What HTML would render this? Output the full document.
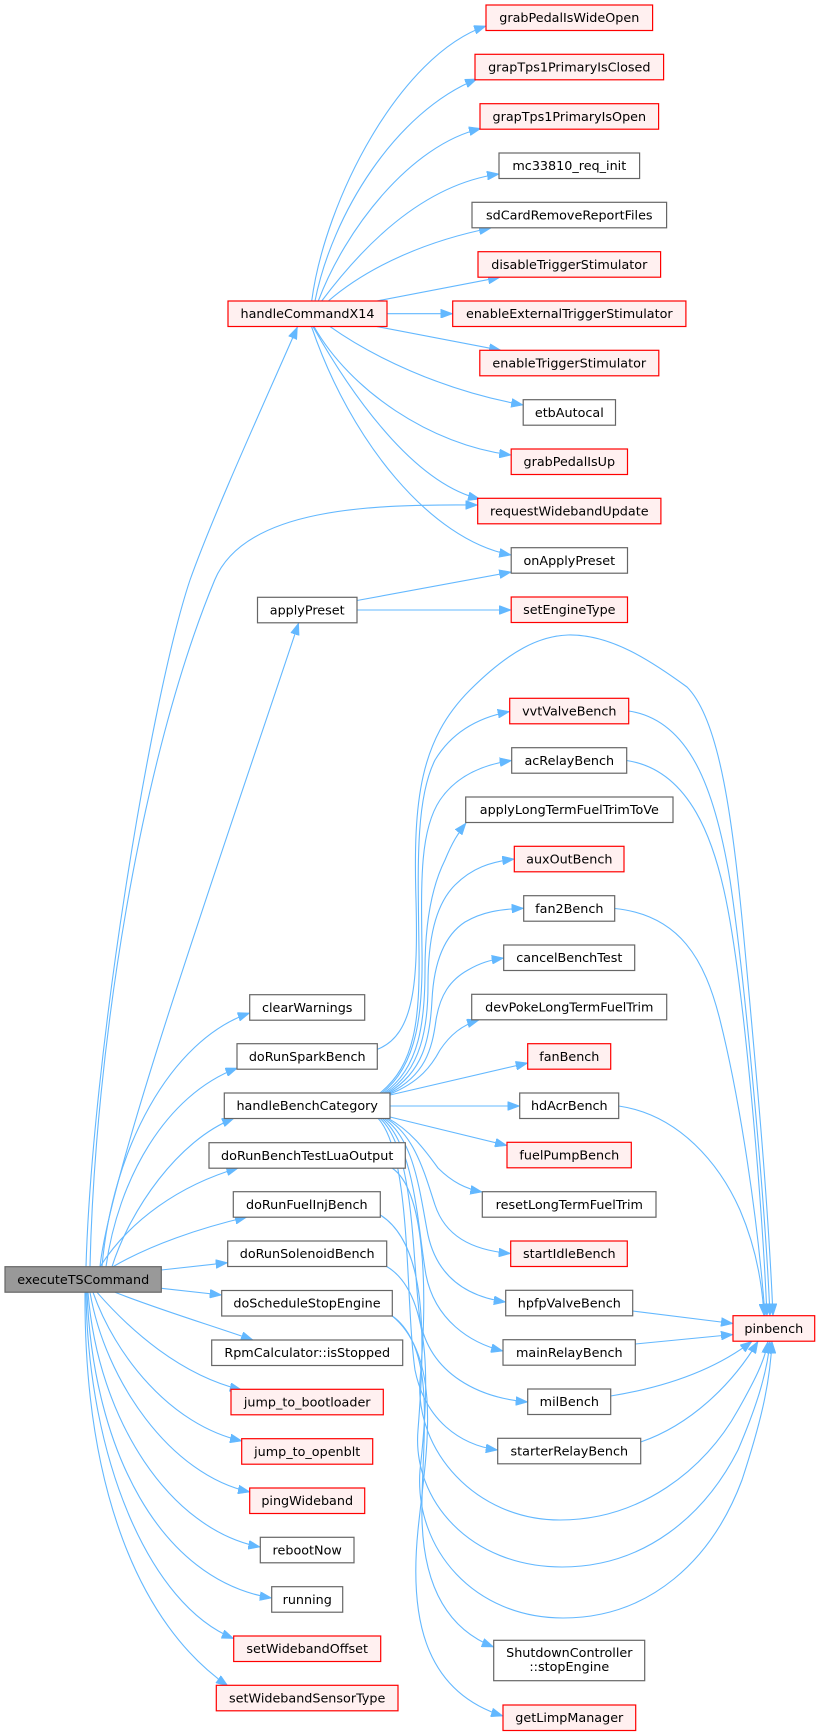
<!DOCTYPE html>
<html><head><meta charset="utf-8"><style>
html,body{margin:0;padding:0;background:#fff;}
svg{display:block;}
text{font-family:"DejaVu Sans","Liberation Sans",sans-serif;font-size:12.75px;fill:#000;text-anchor:middle;}
.e{fill:none;stroke:#63b8ff;stroke-width:1.1;marker-end:url(#a);}
.r{fill:#fff0f0;stroke:#ff0000;stroke-width:1.2;}
.g{fill:#fff;stroke:#666;stroke-width:1.2;}
.k{fill:#999;stroke:#666;stroke-width:1.2;}
</style></head><body>
<svg width="820" height="1736" viewBox="0 0 820 1736" xmlns="http://www.w3.org/2000/svg">
<defs><marker id="a" viewBox="0 0 12 9" refX="12" refY="4.5" markerWidth="12" markerHeight="9" markerUnits="userSpaceOnUse" orient="auto"><path d="M0,0 L12,4.5 L0,9 z" fill="#63b8ff" stroke="#63b8ff" stroke-width="0.6"/></marker></defs>

<!-- edges from handleCommandX14 -->
<path class="e" d="M311.7,301 C325,200 400,55 486,26"/>
<path class="e" d="M315,301 C332,215 395,112 477,79"/>
<path class="e" d="M318.3,301 C345,230 410,145 481,128.5"/>
<path class="e" d="M321.7,301 C360,250 420,185 499,174"/>
<path class="e" d="M328.3,301 C370,265 430,240 491,228"/>
<path class="e" d="M376.7,301 L500,277.3"/>
<path class="e" d="M386.7,313.7 L452.7,313.7"/>
<path class="e" d="M377,326.6 L501,350.3"/>
<path class="e" d="M330,326.6 C370,355 440,390 523.2,405"/>
<path class="e" d="M314,326.6 C350,390 430,445 511.2,455"/>
<path class="e" d="M313,326.6 C360,410 420,485 480,499"/>
<path class="e" d="M311.5,326.6 C350,440 430,540 511.2,555"/>

<!-- applyPreset edges -->
<path class="e" d="M357,600.5 L511.2,572"/>
<path class="e" d="M357,610 L511.2,610"/>

<!-- root edges -->
<path class="e" d="M86,1266.7 C92,1060 150,700 190,580 C215,510 270,390 297.4,327"/>
<path class="e" d="M90,1266.7 C95,1050 140,760 214.7,580 C244.7,508 370,504 477.7,505"/>
<path class="e" d="M100,1266.7 C110,1170 230,830 298.6,623"/>
<path class="e" d="M102,1266.7 C112,1150 170,1040 249.7,1013"/>
<path class="e" d="M106,1266.7 C118,1180 165,1095 237.5,1068"/>
<path class="e" d="M112,1266.7 C130,1210 178,1140 234,1118.3"/>
<path class="e" d="M100,1266.7 C130,1220 180,1185 238.3,1168"/>
<path class="e" d="M113,1266.7 C150,1245 200,1228 247,1217"/>
<path class="e" d="M161.3,1270 L227.7,1262.7"/>
<path class="e" d="M161.3,1288.3 L221.7,1295"/>
<path class="e" d="M115,1292.3 C160,1310 210,1325 253,1340"/>
<path class="e" d="M97,1292.3 C130,1330 180,1375 241.7,1390"/>
<path class="e" d="M93,1292.3 C115,1355 170,1425 242,1441"/>
<path class="e" d="M90,1292.3 C105,1380 170,1475 250,1492"/>
<path class="e" d="M88,1292.3 C98,1420 170,1530 260.3,1547"/>
<path class="e" d="M87,1292.3 C93,1450 160,1580 271.7,1598"/>
<path class="e" d="M86,1292.3 C88,1460 150,1605 233.7,1638.5"/>
<path class="e" d="M85,1292.3 C84,1490 140,1625 228,1686"/>

<!-- handleBenchCategory edges -->
<path class="e" d="M380,1093 C415,1065 420,1020 419,950 C418,870 415,800 435,760 C450,735 475,718 509.7,711.5"/>
<path class="e" d="M382,1093 C418,1065 423,1010 422,950 C421,880 420,830 440,800 C455,778 480,765 511.7,760.5"/>
<path class="e" d="M384,1093 C420,1068 425,1020 425,970 C425,930 430,890 445,860 C452,843 458,833 466,823"/>
<path class="e" d="M386,1093 C422,1070 428,1025 428,985 C428,940 435,905 455,885 C472,868 490,862 514.3,859"/>
<path class="e" d="M388,1093 C423,1072 430,1040 432,1000 C434,960 445,935 465,922 C482,912 500,909 523.7,908.3"/>
<path class="e" d="M390,1093 C425,1075 432,1050 436,1020 C440,995 450,980 468,970 C480,963 490,960 503.7,958"/>
<path class="e" d="M390,1094 C420,1082 432,1065 440,1050 C450,1035 462,1025 479,1020"/>
<path class="e" d="M390,1095 L527.7,1063"/>
<path class="e" d="M390,1106 L519.7,1106"/>
<path class="e" d="M390,1117 L507,1145.5"/>
<path class="e" d="M388,1118.3 C410,1130 425,1150 438,1168 C452,1182 466,1189 482.3,1192"/>
<path class="e" d="M386,1118.3 C415,1135 425,1175 435,1205 C445,1235 470,1250 510.7,1253.5"/>
<path class="e" d="M384,1118.3 C415,1140 420,1195 428,1235 C438,1280 470,1297 505.7,1302"/>
<path class="e" d="M382,1118.3 C415,1145 418,1230 426,1275 C435,1320 470,1343 503,1351"/>
<path class="e" d="M380,1118.3 C415,1150 412,1260 420,1320 C430,1375 480,1398 527.7,1402"/>
<path class="e" d="M378,1118.3 C412,1155 405,1300 415,1370 C425,1420 460,1445 497.7,1450"/>

<!-- doScheduleStopEngine edges -->
<path class="e" d="M392.3,1316 C440,1350 420,1450 422,1520 C424,1590 450,1630 493.7,1647"/>
<path class="e" d="M392.3,1316 C445,1360 425,1460 418,1530 C410,1610 420,1690 503,1716"/>

<!-- big top arc: doRunSparkBench -> pinbench -->
<path class="e" d="M377.3,1049.3 C415,1035 418,980 416,900 C413,800 420,740 470,690 C510,650 540,636 568,635 C610,634 650,660 687,687 C720,720 733,820 745,950 C757,1080 768,1200 773,1315.7"/>

<!-- lower arcs -> pinbench -->
<path class="e" d="M392,1168 C425,1190 428,1290 420,1380 C415,1450 475,1520 560,1520 C640,1520 705,1470 738,1410 C755,1380 765,1360 768,1341.3"/>
<path class="e" d="M380.3,1215 C428,1245 425,1340 418,1430 C412,1500 470,1567 562,1567 C645,1567 705,1515 738,1450 C755,1410 767,1375 770,1341.3"/>
<path class="e" d="M386.7,1266.5 C435,1295 428,1400 420,1470 C414,1550 475,1618 563,1618 C650,1618 712,1560 742,1480 C760,1425 770,1385 772,1341.3"/>

<!-- column 3 -> pinbench -->
<path class="e" d="M628.7,711 C690,720 715,790 730,880 C745,980 765,1200 770,1315.7"/>
<path class="e" d="M626.7,760.5 C690,770 715,840 728,910 C745,1000 762,1200 767,1315.7"/>
<path class="e" d="M614.7,908.5 C680,915 705,960 720,1020 C740,1100 758,1220 765,1315.7"/>
<path class="e" d="M618.7,1106 C680,1115 720,1165 740,1210 C755,1245 762,1280 764,1315.7"/>
<path class="e" d="M632.7,1311 L733,1323.5"/>
<path class="e" d="M635.3,1344 L733,1334.5"/>
<path class="e" d="M610.7,1396 C660,1388 712,1372 752,1341.3"/>
<path class="e" d="M640.7,1442 C690,1425 732,1385 758,1341.3"/>

<!-- nodes: root -->
<rect class="k" x="5" y="1266.7" width="156.3" height="25.5"/><text x="83.2" y="1283.8">executeTSCommand</text>

<!-- column 2 -->
<rect class="r" x="228" y="301" width="159" height="25.5"/><text x="307.5" y="318.1">handleCommandX14</text>
<rect class="g" x="257.5" y="597.3" width="99.5" height="25.5"/><text x="307.2" y="614.4">applyPreset</text>
<rect class="g" x="249.7" y="994.7" width="115" height="25.5"/><text x="307.2" y="1011.8">clearWarnings</text>
<rect class="g" x="237" y="1043.7" width="140.3" height="25.5"/><text x="307.2" y="1060.8">doRunSparkBench</text>
<rect class="g" x="224.3" y="1093" width="165.7" height="25.5"/><text x="307.2" y="1110.1">handleBenchCategory</text>
<rect class="g" x="209" y="1142.7" width="196.3" height="25.5"/><text x="307.2" y="1159.8">doRunBenchTestLuaOutput</text>
<rect class="g" x="233.3" y="1191.7" width="147" height="25.5"/><text x="306.8" y="1208.8">doRunFuelInjBench</text>
<rect class="g" x="227.7" y="1241" width="159" height="25.5"/><text x="307.2" y="1258.1">doRunSolenoidBench</text>
<rect class="g" x="221.7" y="1290.5" width="170.6" height="25.5"/><text x="307" y="1307.6">doScheduleStopEngine</text>
<rect class="g" x="211.7" y="1340" width="191" height="25.5"/><text x="307.2" y="1357.1">RpmCalculator::isStopped</text>
<rect class="r" x="231" y="1389.3" width="152.3" height="25.5"/><text x="307.2" y="1406.4">jump_to_bootloader</text>
<rect class="r" x="241.7" y="1438.7" width="131" height="25.5"/><text x="307.2" y="1455.8">jump_to_openblt</text>
<rect class="r" x="249.7" y="1488" width="115" height="25.5"/><text x="307.2" y="1505.1">pingWideband</text>
<rect class="g" x="260.3" y="1537.3" width="93.7" height="25.5"/><text x="307.2" y="1554.4">rebootNow</text>
<rect class="g" x="271.7" y="1586.7" width="71" height="25.5"/><text x="307.2" y="1603.8">running</text>
<rect class="r" x="233.7" y="1636" width="147" height="25.5"/><text x="307.2" y="1653.1">setWidebandOffset</text>
<rect class="r" x="216.3" y="1685.3" width="181.7" height="25.5"/><text x="307.2" y="1702.4">setWidebandSensorType</text>

<!-- column 3 -->
<rect class="r" x="486" y="5" width="166.6" height="25.5"/><text x="569.3" y="22.1">grabPedalIsWideOpen</text>
<rect class="r" x="475" y="54.3" width="188.6" height="25.5"/><text x="569.3" y="71.4">grapTps1PrimaryIsClosed</text>
<rect class="r" x="480" y="103.7" width="178.6" height="25.5"/><text x="569.3" y="120.8">grapTps1PrimaryIsOpen</text>
<rect class="g" x="499" y="153" width="140.6" height="25.5"/><text x="569.3" y="170.1">mc33810_req_init</text>
<rect class="g" x="472" y="202.3" width="194.6" height="25.5"/><text x="569.3" y="219.4">sdCardRemoveReportFiles</text>
<rect class="r" x="478" y="251.7" width="182.6" height="25.5"/><text x="569.3" y="268.8">disableTriggerStimulator</text>
<rect class="r" x="452.7" y="301" width="233.2" height="25.5"/><text x="569.3" y="318.1">enableExternalTriggerStimulator</text>
<rect class="r" x="479.8" y="350.3" width="179" height="25.5"/><text x="569.3" y="367.4">enableTriggerStimulator</text>
<rect class="g" x="523.2" y="399.7" width="92.3" height="25.5"/><text x="569.3" y="416.8">etbAutocal</text>
<rect class="r" x="511.2" y="449" width="116.3" height="25.5"/><text x="569.3" y="466.1">grabPedalIsUp</text>
<rect class="r" x="477.7" y="498.3" width="183.2" height="25.5"/><text x="569.3" y="515.4">requestWidebandUpdate</text>
<rect class="g" x="511.2" y="547.7" width="116.3" height="25.5"/><text x="569.3" y="564.8">onApplyPreset</text>
<rect class="r" x="511.2" y="597" width="116.3" height="25.5"/><text x="569.3" y="614.1">setEngineType</text>
<rect class="r" x="509.7" y="698.3" width="119" height="25.5"/><text x="569.3" y="715.4">vvtValveBench</text>
<rect class="g" x="511.7" y="747.7" width="115" height="25.5"/><text x="569.3" y="764.8">acRelayBench</text>
<rect class="g" x="465.7" y="797" width="207.3" height="25.5"/><text x="569.3" y="814.1">applyLongTermFuelTrimToVe</text>
<rect class="r" x="514.3" y="846.3" width="109.7" height="25.5"/><text x="569.3" y="863.4">auxOutBench</text>
<rect class="g" x="523.7" y="895.7" width="91" height="25.5"/><text x="569.3" y="912.8">fan2Bench</text>
<rect class="g" x="503.7" y="945" width="131" height="25.5"/><text x="569.3" y="962.1">cancelBenchTest</text>
<rect class="g" x="471.7" y="994.3" width="195" height="25.5"/><text x="569.3" y="1011.4">devPokeLongTermFuelTrim</text>
<rect class="r" x="527.7" y="1043.7" width="83" height="25.5"/><text x="569.3" y="1060.8">fanBench</text>
<rect class="g" x="519.7" y="1093" width="99" height="25.5"/><text x="569.3" y="1110.1">hdAcrBench</text>
<rect class="r" x="507" y="1142.3" width="124.3" height="25.5"/><text x="569.3" y="1159.4">fuelPumpBench</text>
<rect class="g" x="482.3" y="1191.7" width="173.7" height="25.5"/><text x="569.3" y="1208.8">resetLongTermFuelTrim</text>
<rect class="r" x="510.7" y="1241" width="116.6" height="25.5"/><text x="569.3" y="1258.1">startIdleBench</text>
<rect class="g" x="505.7" y="1290.3" width="127" height="25.5"/><text x="569.3" y="1307.4">hpfpValveBench</text>
<rect class="g" x="503" y="1339.7" width="132.3" height="25.5"/><text x="569.3" y="1356.8">mainRelayBench</text>
<rect class="g" x="527.7" y="1389" width="83" height="25.5"/><text x="569.3" y="1406.1">milBench</text>
<rect class="g" x="497.7" y="1438.3" width="143" height="25.5"/><text x="569.3" y="1455.4">starterRelayBench</text>
<rect class="g" x="493.7" y="1640.3" width="151" height="40.4"/><text x="569.3" y="1657">ShutdownController</text><text x="569.3" y="1671">::stopEngine</text>
<rect class="r" x="503" y="1705" width="132.7" height="25.5"/><text x="569.3" y="1722.1">getLimpManager</text>

<!-- column 4 -->
<rect class="r" x="733" y="1315.7" width="81.7" height="25.5"/><text x="773.8" y="1332.8">pinbench</text>
</svg>
</body></html>
